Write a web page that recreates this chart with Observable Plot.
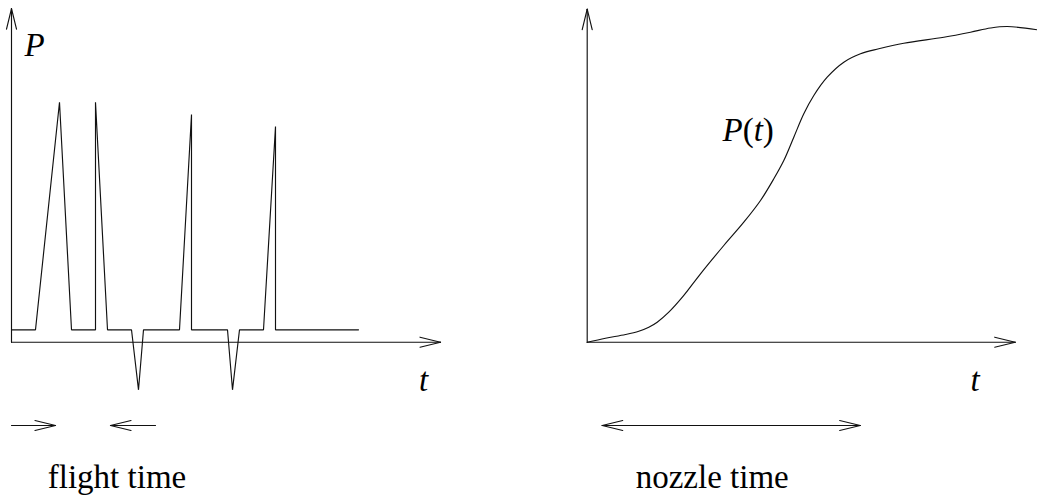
<!DOCTYPE html>
<html><head><meta charset="utf-8">
<script src="https://cdn.jsdelivr.net/npm/d3@7"></script>
<script src="https://cdn.jsdelivr.net/npm/@observablehq/plot@0.6"></script>
<style>
body{margin:0;background:#fff;position:relative}
#wrap{display:flex;width:1037px;height:499px;background:#fff}
#wrap svg{display:block;background:#fff}
#prime{position:absolute;left:1000px;top:470px;font-size:12px;color:#fff;line-height:12px}
</style>
</head><body><div id="wrap"></div>
<div id="prime" aria-hidden="true"><span style="font-family:monospace">&nbsp;</span><span style="font-family:'DejaVu Serif'">&nbsp;</span><span style="font-family:'Noto Serif'">&nbsp;</span><span style="font-family:'Times New Roman'">&nbsp;</span><span style="font-family:'Liberation Serif'">&nbsp;</span><span style="font-family:'Liberation Serif';font-style:italic">&nbsp;</span></div>
<script>
// ---------- DATA ----------
// Left panel: pressure pulse train P vs t (flight time)
const pulseT = [0, 2.4, 4.8, 6.0, 8.4, 8.4, 9.6, 12.0, 12.7, 13.2, 16.8, 18.0, 18.0, 21.6, 22.1, 22.8, 25.2, 26.4, 26.4, 34.7];
const pulseP = [1, 1, 19.35, 1, 1, 19.35, 1, 1, -3.84, 1, 1, 18.36, 1, 1, -3.84, 1, 1, 17.4, 1, 1];
const leftAxisTEnd = 42.9;
const leftAxisPEnd = 26.9;
const flightArrowT = [[0, 4.4], [14.4, 9.9]];   // [from, to]
const flightArrowP = -6.72;
const leftLabels = ["P", "t"];
const leftLabelT = [2.32, 41.2];
const leftLabelP = [23.9, -3.12];
const flightLabel = "flight time";
const flightLabelT = 10.55, flightLabelP = -10.94;

// Right panel: pressure build-up P(t) (nozzle time)
const nozzleT = [0, 1.83, 3.83, 5.16, 6.16, 7.0, 8.16, 9.6, 11.33, 13.66, 15.66, 17.33, 18.66, 19.66, 20.66, 21.66, 22.66, 24.0, 25.66, 27.33, 29.16, 31.66, 35.66, 38.33, 40.33, 42.0, 45.03];
const nozzleP = [0, 0.4, 0.77, 1.1, 1.5, 2.0, 3.0, 4.6, 6.84, 9.67, 12.0, 14.17, 16.34, 18.17, 20.5, 22.84, 24.67, 26.5, 28.0, 28.84, 29.34, 29.9, 30.5, 31.0, 31.42, 31.57, 31.24];
const rightAxisTEnd = 42.8;
const rightAxisPEnd = 33.3;
const nozzleArrowT = [1.5, 27.3];
const nozzleArrowP = -8.33;
const rightLabels = ["P(t)", "t"];
const rightLabelT = [16.1, 38.8];
const rightLabelP = [21.2, -3.87];
const nozzleLabel = "nozzle time";
const nozzleLabelT = 12.5, nozzleLabelP = -13.57;

// ---------- LAYOUT ----------
const H = 499;
const INK = "#111", SW = 1.15, FONT = "Liberation Serif", FS = 33;

function arrowLinks(arrows, kx, ky, headLen = 20.5, headHalf = 5) {
  const out = [];
  for (const a of arrows) {
    out.push({x1: a.x1, y1: a.y1, x2: a.x2, y2: a.y2});
    const px = (a.x2 - a.x1) * kx, py = -(a.y2 - a.y1) * ky;
    const len = Math.hypot(px, py), ux = px / len, uy = py / len;
    const heads = a.both ? [[a.x2, a.y2, 1], [a.x1, a.y1, -1]] : [[a.x2, a.y2, 1]];
    for (const [tx, ty, s] of heads) {
      for (const side of [-1, 1]) {
        const wx = -s * headLen * ux + side * headHalf * (-uy);
        const wy = -s * headLen * uy + side * headHalf * ux;
        out.push({x1: tx, y1: ty, x2: tx + wx / kx, y2: ty - wy / ky});
      }
    }
  }
  return out;
}

function panel(p, marks) {
  const xmin = -p.ox / p.kx, xmax = (p.width - p.ox) / p.kx;
  const ymax = p.oy / p.ky, ymin = (p.oy - H) / p.ky;
  return Plot.plot({
    width: p.width, height: H, margin: 0,
    x: {domain: [xmin, xmax], axis: null},
    y: {domain: [ymin, ymax], axis: null},
    marks
  });
}

const linkOpts = {x1: "x1", y1: "y1", x2: "x2", y2: "y2", stroke: INK, strokeWidth: SW, strokeLinecap: "round"};
const textOpts = {fontFamily: FONT, fontSize: FS, fill: "#000"};

// Left panel
const LP = {width: 518, ox: 11, oy: 341.7, kx: 10, ky: 12.4};
const leftArrows = [
  {x1: 0, y1: 0, x2: leftAxisTEnd, y2: 0},
  {x1: 0, y1: 0, x2: 0, y2: leftAxisPEnd},
  ...flightArrowT.map(([a, b]) => ({x1: a, y1: flightArrowP, x2: b, y2: flightArrowP}))
];
const pulse = pulseT.map((t, i) => ({t, P: pulseP[i]}));
const leftPlot = panel(LP, [
  Plot.link(arrowLinks(leftArrows, LP.kx, LP.ky), linkOpts),
  Plot.line(pulse, {x: "t", y: "P", stroke: INK, strokeWidth: SW, strokeLinejoin: "miter"}),
  Plot.text(leftLabels.map((s, i) => ({s, t: leftLabelT[i], P: leftLabelP[i]})),
    {x: "t", y: "P", text: "s", fontStyle: "italic", ...textOpts}),
  Plot.text([{s: flightLabel, t: flightLabelT, P: flightLabelP}], {x: "t", y: "P", text: "s", ...textOpts})
]);

// Right panel
const RP = {width: 519, ox: 586.7 - 518, oy: 341.7, kx: 10, ky: 10};
const rightArrows = [
  {x1: 0, y1: 0, x2: rightAxisTEnd, y2: 0},
  {x1: 0, y1: 0, x2: 0, y2: rightAxisPEnd},
  {x1: nozzleArrowT[0], y1: nozzleArrowP, x2: nozzleArrowT[1], y2: nozzleArrowP, both: true}
];
const curve = nozzleT.map((t, i) => ({t, P: nozzleP[i]}));
const rightPlot = panel(RP, [
  Plot.link(arrowLinks(rightArrows, RP.kx, RP.ky), linkOpts),
  Plot.line(curve, {x: "t", y: "P", curve: "catmull-rom", stroke: INK, strokeWidth: SW}),
  Plot.text(rightLabels.map((s, i) => ({s, t: rightLabelT[i], P: rightLabelP[i]})),
    {x: "t", y: "P", text: "s", fontStyle: "italic", ...textOpts}),
  Plot.text([{s: nozzleLabel, t: nozzleLabelT, P: nozzleLabelP}], {x: "t", y: "P", text: "s", ...textOpts})
]);

// upright parentheses in P(t), as in the typeset original
rightPlot.querySelectorAll("text").forEach(el => {
  if (el.textContent === "P(t)") {
    el.textContent = "";
    [["P", "italic"], ["(", "normal"], ["t", "italic"], [")", "normal"]].forEach(([c, st]) => {
      const ts = document.createElementNS("http://www.w3.org/2000/svg", "tspan");
      ts.setAttribute("font-style", st);
      ts.textContent = c;
      el.appendChild(ts);
    });
  }
});

const wrap = document.getElementById("wrap");
wrap.appendChild(leftPlot);
wrap.appendChild(rightPlot);
document.getElementById("prime").getBoundingClientRect();
wrap.querySelectorAll("text").forEach(el => {
  el.style.fontFamily = "'Liberation Serif'";
  getComputedStyle(el).fontFamily;
});
</script>
</body></html>
